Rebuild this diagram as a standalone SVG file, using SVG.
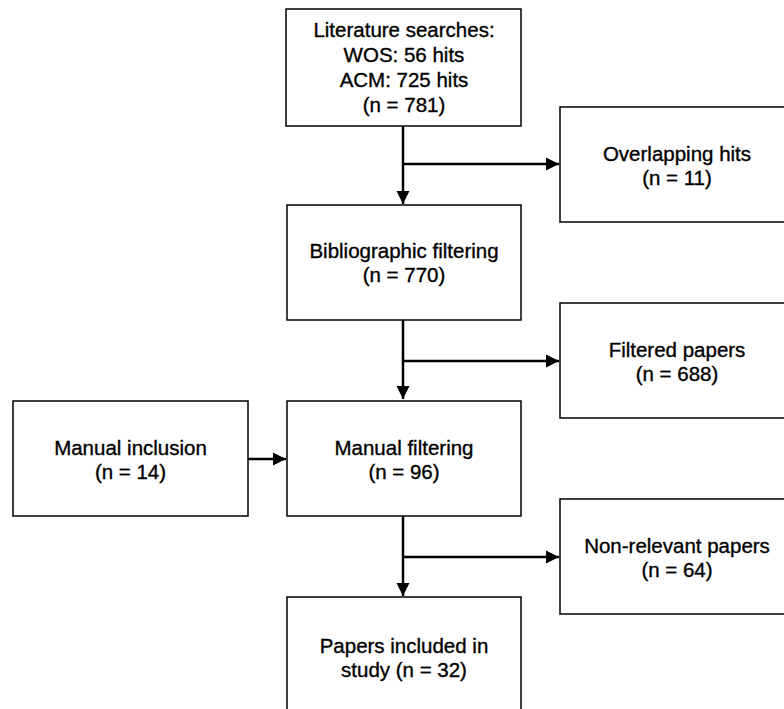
<svg xmlns="http://www.w3.org/2000/svg" width="784" height="709" viewBox="0 0 784 709">
<style>
.box{fill:#fff;stroke:#000;stroke-width:1.5}
.t{font-family:"Liberation Sans",Arial,sans-serif;font-size:20.5px;fill:#000;stroke:#000;stroke-width:0.35;text-anchor:middle}
.c{fill:none;stroke:#000;stroke-width:2.5}
</style>
<defs>
<marker id="ah" viewBox="0 0 10 10" refX="10" refY="5" markerWidth="5.4" markerHeight="5.4" markerUnits="strokeWidth" orient="auto">
<path d="M0,0 L10,5 L0,10 z" fill="#000"/>
</marker>
</defs>
<rect width="784" height="709" fill="#fff"/>
<g id="connectors">
<path class="c" d="M403,126 V204" marker-end="url(#ah)"/>
<path class="c" d="M403,164 H559" marker-end="url(#ah)"/>
<path class="c" d="M403,320 V399" marker-end="url(#ah)"/>
<path class="c" d="M403,361 H559" marker-end="url(#ah)"/>
<path class="c" d="M248,459 H286" marker-end="url(#ah)"/>
<path class="c" d="M403,516 V596" marker-end="url(#ah)"/>
<path class="c" d="M403,557 H559" marker-end="url(#ah)"/>
</g>
<g id="literature">
<rect class="box" x="286" y="9" width="235" height="117"/>
<text class="t" x="404" y="37">Literature searches:</text>
<text class="t" x="404" y="62">WOS: 56 hits</text>
<text class="t" x="404" y="87">ACM: 725 hits</text>
<text class="t" x="404" y="112">(n = 781)</text>
</g>
<g id="overlapping">
<rect class="box" x="560" y="107" width="236" height="115"/>
<text class="t" x="677" y="161">Overlapping hits</text>
<text class="t" x="677" y="185">(n = 11)</text>
</g>
<g id="bibliographic">
<rect class="box" x="287" y="205" width="234" height="115"/>
<text class="t" x="404" y="258">Bibliographic filtering</text>
<text class="t" x="404" y="282">(n = 770)</text>
</g>
<g id="filtered">
<rect class="box" x="560" y="303" width="236" height="115"/>
<text class="t" x="677" y="357">Filtered papers</text>
<text class="t" x="677" y="381">(n = 688)</text>
</g>
<g id="manual-inclusion">
<rect class="box" x="13" y="401" width="235" height="115"/>
<text class="t" x="130.5" y="455">Manual inclusion</text>
<text class="t" x="130.5" y="479">(n = 14)</text>
</g>
<g id="manual-filtering">
<rect class="box" x="287" y="401" width="234" height="115"/>
<text class="t" x="404" y="455">Manual filtering</text>
<text class="t" x="404" y="479">(n = 96)</text>
</g>
<g id="non-relevant">
<rect class="box" x="560" y="499" width="236" height="115"/>
<text class="t" x="677" y="553">Non-relevant papers</text>
<text class="t" x="677" y="577">(n = 64)</text>
</g>
<g id="included">
<rect class="box" x="287" y="597" width="234" height="120"/>
<text class="t" x="404" y="653">Papers included in</text>
<text class="t" x="404" y="677">study (n = 32)</text>
</g>
</svg>
